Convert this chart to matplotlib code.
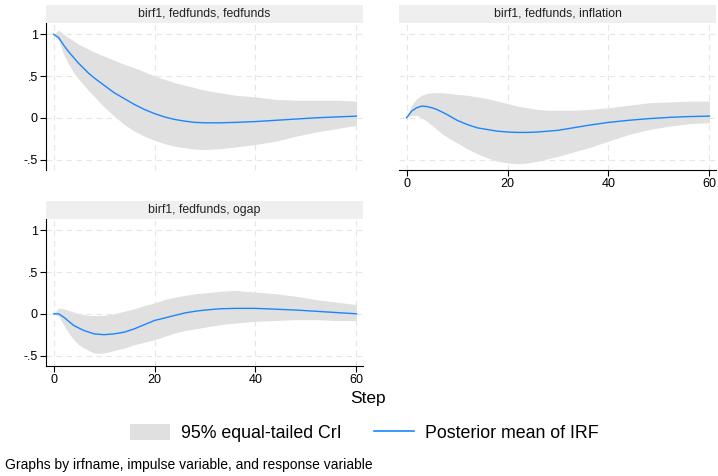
import matplotlib
matplotlib.use("Agg")
import matplotlib.pyplot as plt
from matplotlib.patches import Rectangle, Patch
from matplotlib.lines import Line2D

plt.rcParams['font.family'] = ['Liberation Sans', 'DejaVu Sans']

steps = [0, 1, 2, 3, 4, 5, 6, 7, 8, 10, 12, 14, 16, 18, 20, 22, 24, 26, 28,
         30, 33, 36, 40, 44, 48, 52, 56, 60]

# fedfunds -> fedfunds
ff_mean = [1.0, 0.96, 0.87, 0.79, 0.72, 0.65, 0.59, 0.53, 0.48, 0.39, 0.30,
           0.23, 0.16, 0.10, 0.05, 0.01, -0.02, -0.04, -0.055, -0.06, -0.06,
           -0.055, -0.045, -0.03, -0.015, 0.0, 0.01, 0.02]
ff_upper = [1.0, 1.05, 1.0, 0.96, 0.92, 0.88, 0.85, 0.82, 0.79, 0.74, 0.69,
            0.64, 0.60, 0.55, 0.50, 0.46, 0.42, 0.39, 0.36, 0.33, 0.30, 0.27,
            0.25, 0.22, 0.21, 0.21, 0.21, 0.20]
ff_lower = [1.0, 0.93, 0.76, 0.64, 0.54, 0.46, 0.39, 0.32, 0.26, 0.13, 0.02,
            -0.08, -0.16, -0.22, -0.27, -0.31, -0.34, -0.36, -0.375, -0.38,
            -0.37, -0.35, -0.32, -0.28, -0.22, -0.17, -0.13, -0.09]

# fedfunds -> inflation
inf_mean = [0.0, 0.08, 0.12, 0.14, 0.135, 0.12, 0.10, 0.07, 0.04, -0.03,
            -0.08, -0.12, -0.14, -0.16, -0.17, -0.175, -0.175, -0.17, -0.16,
            -0.15, -0.12, -0.09, -0.055, -0.03, -0.01, 0.005, 0.015, 0.02]
inf_upper = [0.0, 0.15, 0.23, 0.27, 0.29, 0.30, 0.30, 0.30, 0.295, 0.28, 0.27,
             0.25, 0.23, 0.20, 0.17, 0.14, 0.12, 0.10, 0.09, 0.09, 0.09, 0.10,
             0.12, 0.15, 0.18, 0.19, 0.20, 0.20]
inf_lower = [0.0, 0.03, 0.03, 0.0, -0.04, -0.09, -0.14, -0.19, -0.23, -0.30,
             -0.37, -0.43, -0.48, -0.52, -0.54, -0.55, -0.54, -0.52, -0.49,
             -0.46, -0.41, -0.36, -0.28, -0.20, -0.14, -0.10, -0.07, -0.06]

# fedfunds -> ogap
og_mean = [0.0, 0.0, -0.04, -0.09, -0.14, -0.17, -0.20, -0.22, -0.24, -0.25,
           -0.24, -0.22, -0.18, -0.13, -0.08, -0.05, -0.02, 0.01, 0.03, 0.045,
           0.06, 0.065, 0.065, 0.055, 0.045, 0.03, 0.015, 0.0]
og_upper = [0.0, 0.07, 0.06, 0.04, 0.02, 0.0, -0.01, -0.02, -0.02, -0.02, 0.0,
            0.03, 0.06, 0.10, 0.13, 0.17, 0.20, 0.22, 0.24, 0.25, 0.27, 0.28,
            0.26, 0.24, 0.21, 0.17, 0.14, 0.11]
og_lower = [0.0, -0.03, -0.13, -0.23, -0.31, -0.37, -0.41, -0.44, -0.47,
            -0.47, -0.44, -0.41, -0.37, -0.34, -0.31, -0.27, -0.23, -0.20,
            -0.18, -0.16, -0.13, -0.11, -0.09, -0.08, -0.07, -0.07, -0.08,
            -0.08]

titles = ['birf1, fedfunds, fedfunds', 'birf1, fedfunds, inflation',
          'birf1, fedfunds, ogap']
xticks = [0, 20, 40, 60]
yticks = [-0.5, 0, 0.5, 1]
ylabels = ['-.5', '0', '.5', '1']

band_color = '#E0E0E0'
line_color = '#1A85FF'

W, H = 718, 476
fig = plt.figure(figsize=(W / 100, H / 100), dpi=100)

def frac(left, top, width, height):
    return [left / W, 1 - (top + height) / H, width / W, height / H]

ax1 = fig.add_axes(frac(46, 23, 317, 147))
ax2 = fig.add_axes(frac(399, 23, 317, 147))
ax3 = fig.add_axes(frac(46, 219, 317, 147))

panels = [
    (ax1, ff_mean, ff_lower, ff_upper, True, False),
    (ax2, inf_mean, inf_lower, inf_upper, False, True),
    (ax3, og_mean, og_lower, og_upper, True, True),
]

for i, (ax, mean, lower, upper, show_y, show_x) in enumerate(panels):
    ax.fill_between(steps, lower, upper, color=band_color, lw=0, zorder=2)
    ax.plot(steps, mean, color=line_color, lw=1.0, zorder=3)
    ax.set_xlim(-1.5, 61.3)
    ax.set_ylim(-0.625, 1.135)
    ax.set_xticks(xticks)
    ax.set_yticks(yticks)
    ax.grid(True, color='#E6E6E6', lw=0.8, ls=(0, (5, 4)), zorder=0)
    ax.set_axisbelow(True)
    for s in ['top', 'right']:
        ax.spines[s].set_visible(False)
    ax.spines['left'].set_visible(show_y)
    ax.spines['bottom'].set_visible(show_x)
    ax.tick_params(axis='y', left=show_y, labelleft=show_y, length=4,
                   width=0.8, labelsize=9, pad=2)
    ax.tick_params(axis='x', bottom=show_x, labelbottom=show_x, length=4,
                   width=0.8, labelsize=9, pad=2)
    ax.set_yticklabels(ylabels)
    ax.set_xticklabels([str(t) for t in xticks])
    # title strip
    strip_h = 18 / 147
    ax.add_patch(Rectangle((0, 1), 1, strip_h, transform=ax.transAxes,
                           facecolor='#EFEFEF', edgecolor='none',
                           clip_on=False))
    ax.text(0.5, 1 + strip_h / 2, titles[i], transform=ax.transAxes,
            ha='center', va='center', fontsize=8.8, color='#222222')

fig.text(368 / W, 1 - 398 / H, 'Step', ha='center', va='center',
         fontsize=12.5)

handles = [Patch(facecolor=band_color, edgecolor='none'),
           Line2D([], [], color=line_color, lw=1.2)]
fig.legend(handles, ['95% equal-tailed CrI', 'Posterior mean of IRF'],
           loc='center', bbox_to_anchor=(364.5 / W, 1 - 433 / H), ncol=2,
           frameon=False, fontsize=12.8, handlelength=2.25, handleheight=1.0,
           columnspacing=1.85, handletextpad=0.6)

fig.text(5 / W, 1 - 465 / H,
         'Graphs by irfname, impulse variable, and response variable',
         ha='left', va='center', fontsize=10)

fig.savefig('out.png', dpi=100)
